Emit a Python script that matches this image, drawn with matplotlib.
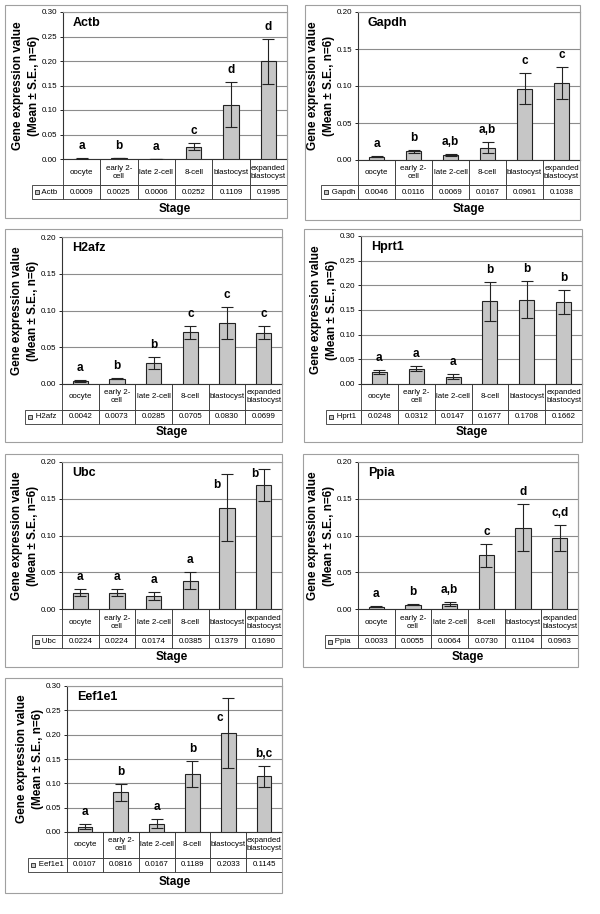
import numpy as np
import matplotlib.pyplot as plt
from matplotlib.patches import Rectangle
from matplotlib.table import Table

plt.rcParams['font.family'] = ['Liberation Sans', 'DejaVu Sans']

W, H = 600, 914  # размер картинки в пикселях

stages = ['oocyte', 'early 2-\ncell', 'late 2-cell', '8-cell', 'blastocyst', 'expanded\nblastocyst']

# Средние значения, ошибки (S.E.) и буквы значимости
actb = [0.0009, 0.0025, 0.0006, 0.0252, 0.1109, 0.1995]
actb_se = [0.0003, 0.0005, 0.0002, 0.0075, 0.046, 0.046]
actb_sig = ['a', 'b', 'a', 'c', 'd', 'd']

gapdh = [0.0046, 0.0116, 0.0069, 0.0167, 0.0961, 0.1038]
gapdh_se = [0.001, 0.0018, 0.001, 0.0078, 0.021, 0.0215]
gapdh_sig = ['a', 'b', 'a,b', 'a,b', 'c', 'c']

h2afz = [0.0042, 0.0073, 0.0285, 0.0705, 0.0830, 0.0699]
h2afz_se = [0.0008, 0.0008, 0.008, 0.0089, 0.0223, 0.0086]
h2afz_sig = ['a', 'b', 'b', 'c', 'c', 'c']

hprt1 = [0.0248, 0.0312, 0.0147, 0.1677, 0.1708, 0.1662]
hprt1_se = [0.004, 0.005, 0.0047, 0.0395, 0.037, 0.025]
hprt1_sig = ['a', 'a', 'a', 'b', 'b', 'b']

ubc = [0.0224, 0.0224, 0.0174, 0.0385, 0.1379, 0.1690]
ubc_se = [0.0045, 0.0045, 0.0055, 0.0115, 0.046, 0.022]
ubc_sig = ['a', 'a', 'a', 'a', 'b', 'b']

ppia = [0.0033, 0.0055, 0.0064, 0.0730, 0.1104, 0.0963]
ppia_se = [0.0007, 0.0007, 0.0028, 0.016, 0.0318, 0.018]
ppia_sig = ['a', 'b', 'a,b', 'c', 'd', 'c,d']

eef1e1 = [0.0107, 0.0816, 0.0167, 0.1189, 0.2033, 0.1145]
eef1e1_se = [0.0055, 0.017, 0.009, 0.026, 0.072, 0.022]
eef1e1_sig = ['a', 'b', 'a', 'b', 'c', 'b,c']

fig = plt.figure(figsize=(W / 100, H / 100), dpi=100)


def panel(name, vals, se, sig, ymax, box, rows, leg_x, frame, stage_y, nudge):
    x0, y0, x1, y1 = box
    pw, ph = x1 - x0, y1 - y0
    ax = fig.add_axes([x0 / W, 1 - y1 / H, pw / W, ph / H])
    x = np.arange(len(vals))
    ax.bar(x, vals, width=0.41, color='#c6c6c6', edgecolor='#222222', lw=0.8, zorder=3)
    ax.errorbar(x, vals, yerr=se, fmt='none', ecolor='#222222', elinewidth=0.8,
                capsize=4.5, capthick=0.8, zorder=4)
    ax.set_xlim(-0.5, len(vals) - 0.5)
    ax.set_ylim(0, ymax)
    ax.set_yticks(np.arange(0, ymax + 0.001, 0.05))
    ax.yaxis.set_major_formatter('{x:.2f}')
    ax.tick_params(axis='y', labelsize=5.8, length=2.5, width=0.6, pad=1.5)
    ax.set_xticks([])
    ax.grid(axis='y', color='#8c8c8c', lw=0.8, zorder=0)
    for s in ['top', 'right']:
        ax.spines[s].set_color('#999999')
        ax.spines[s].set_linewidth(0.8)
    for s in ['left', 'bottom']:
        ax.spines[s].set_color('#333333')
        ax.spines[s].set_linewidth(0.8)

    # название гена
    ax.annotate(name, (0, 1), xycoords='axes fraction', xytext=(10, -11),
                textcoords='offset pixels', fontsize=9, fontweight='bold',
                ha='left', va='center')

    # буквы над столбиками
    for i, (v, e, s) in enumerate(zip(vals, se, sig)):
        dx, dy = nudge.get(i, (0, 12))
        ax.annotate(s, (i, v + e), xytext=(dx, dy), textcoords='offset pixels',
                    ha='center', va='center', fontsize=8.5, fontweight='bold',
                    annotation_clip=False)

    # таблица данных под осью
    r0, r1 = rows
    h_cat = (r0 - y1) / ph
    h_val = (r1 - r0) / ph
    n = len(vals)
    tab = Table(ax, bbox=[0, -(h_cat + h_val), 1, h_cat + h_val])
    for j in range(n):
        tab.add_cell(0, j, 1 / n, h_cat, text=stages[j], loc='center')
        tab.add_cell(1, j, 1 / n, h_val, text=f'{vals[j]:.4f}', loc='center')
    tab.add_cell(1, -1, (x0 - leg_x) / pw, h_val, text='   ' + name, loc='left')
    tab.auto_set_font_size(False)
    tab.set_fontsize(5.7)
    for cell in tab.get_celld().values():
        cell.set_linewidth(0.6)
        cell.set_edgecolor('#333333')
    ax.add_table(tab)
    ax.plot([(leg_x + 5 - x0) / pw], [(y1 - (r0 + r1) / 2) / ph], marker='s', ms=3.4,
            mfc='#c6c6c6', mec='#222222', mew=0.6, transform=ax.transAxes, clip_on=False)

    ax.set_ylabel('Gene expression value\n(Mean ± S.E., n=6)', fontsize=8.5,
                  fontweight='bold', linespacing=1.4, va='center')
    ax.yaxis.set_label_coords(-37 / pw, 0.5)
    ax.set_xlabel('Stage', fontsize=8.5, fontweight='bold', va='center')
    ax.xaxis.set_label_coords(0.5, (y1 - stage_y) / ph)

    fx0, fy0, fx1, fy1 = frame
    fig.add_artist(Rectangle((fx0 / W, 1 - fy1 / H), (fx1 - fx0) / W, (fy1 - fy0) / H,
                             transform=fig.transFigure, fill=False, ec='#a0a0a0', lw=0.8))


panel('Actb', actb, actb_se, actb_sig, 0.30, (63, 12, 287, 159), (185, 199), 32, (5, 5, 287, 218), 209, {})
panel('Gapdh', gapdh, gapdh_se, gapdh_sig, 0.20, (358, 12, 580, 160), (185, 199), 321, (305, 5, 580, 220), 209, {})
panel('H2afz', h2afz, h2afz_se, h2afz_sig, 0.20, (62, 237, 282, 384), (410, 424), 25, (5, 229, 282, 442), 432, {})
panel('Hprt1', hprt1, hprt1_se, hprt1_sig, 0.30, (361, 236, 582, 384), (410, 424), 326, (304, 229, 582, 442), 432, {})
panel('Ubc', ubc, ubc_se, ubc_sig, 0.20, (62, 462, 282, 609), (635, 648), 32, (5, 454, 282, 667), 657,
      {4: (-10, -11), 5: (-9, -5)})
panel('Ppia', ppia, ppia_se, ppia_sig, 0.20, (358, 462, 578, 609), (635, 648), 325, (303, 454, 578, 667), 657, {})
panel('Eef1e1', eef1e1, eef1e1_se, eef1e1_sig, 0.30, (67, 686, 282, 832), (858, 872), 28, (5, 678, 282, 893), 882,
      {4: (-8, -20)})

fig.savefig('out.png', dpi=100)
